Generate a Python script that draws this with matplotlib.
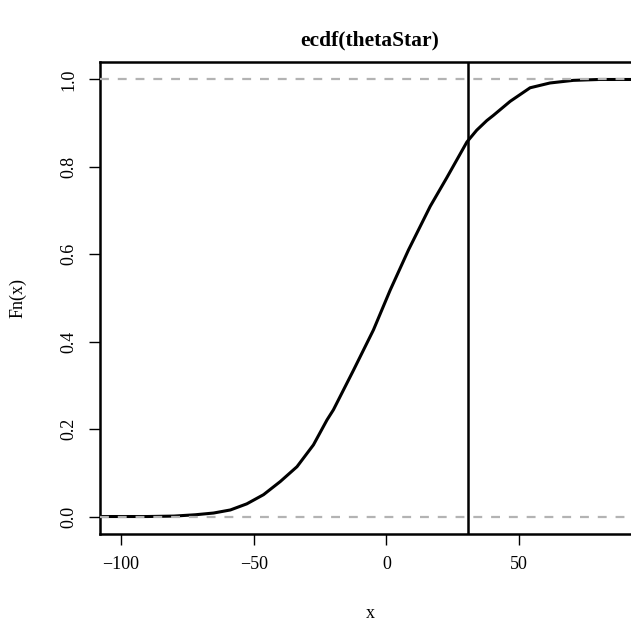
import numpy as np
import matplotlib.pyplot as plt

# points (x, Fn(x))
theta_x = [-100.4, -90, -80, -72, -65.1, -58.8, -52.6, -46.3, -40.0, -33.7,
           -27.5, -22.4, -20.0, -12.4, -4.9, 1.4, 8.3, 16.5, 22.7,
           30.3, 34.0, 37.8, 40.3, 46.6, 54.1, 61.6, 70.4, 80, 87.9]
theta_F = [0.0, 0.0, 0.001, 0.004, 0.008, 0.015, 0.029, 0.05, 0.08, 0.114,
           0.164, 0.221, 0.244, 0.335, 0.427, 0.518, 0.61, 0.71, 0.775,
           0.857, 0.884, 0.906, 0.918, 0.95, 0.981, 0.992, 0.998, 1.0, 1.0]
vline_x = 30.6

xticks = [-100, -50, 0, 50]
yticks = [0.0, 0.2, 0.4, 0.6, 0.8, 1.0]
ytick_labels = ['0.0', '0.2', '0.4', '0.6', '0.8', '1.0']

plt.rcParams['font.family'] = ['Liberation Serif', 'DejaVu Serif']

W, H = 631, 623
fig = plt.figure(figsize=(W/100, H/100), dpi=100)
# plot region: left 100px, right ~640px (runs past the edge), top 62px, bottom 534px
ax = fig.add_axes([100/W, 1-534/H, 540/W, (534-62)/H])

x0, x1 = -107.9, 95.5
# ecdf line, extended flat to the plot limits like R does
xs = [x0-5] + theta_x + [x1+5]
Fs = [0.0] + theta_F + [1.0]
ax.plot(xs, Fs, color='black', lw=2.2, solid_capstyle='butt', zorder=2)
ax.axhline(0, color='#b3b3b3', lw=1.6, ls=(0, (4, 4)), zorder=3)
ax.axhline(1, color='#b3b3b3', lw=1.6, ls=(0, (4, 4)), zorder=3)
ax.axvline(vline_x, color='black', lw=1.8, zorder=4)

ax.set_xlim(x0, x1)
ax.set_ylim(-0.04, 1.04)
ax.set_xticks(xticks)
ax.set_xticklabels(['\u2212100', '\u221250', '0', '50'])
ax.set_yticks(yticks)
ax.set_yticklabels(ytick_labels, rotation=90, va='center')
ax.tick_params(direction='out', length=8, width=1, labelsize=13, pad=8)
for s in ax.spines.values():
    s.set_linewidth(1.8)

fig.text(370/W, 1-40/H, 'ecdf(thetaStar)', ha='center', va='center',
         fontsize=15.5, fontweight='bold')
fig.text(370/W, 1-613/H, 'x', ha='center', va='center', fontsize=13)
fig.text(18/W, 1-298/H, 'Fn(x)', ha='center', va='center', rotation=90, fontsize=13)

fig.savefig('out.png', dpi=100)
